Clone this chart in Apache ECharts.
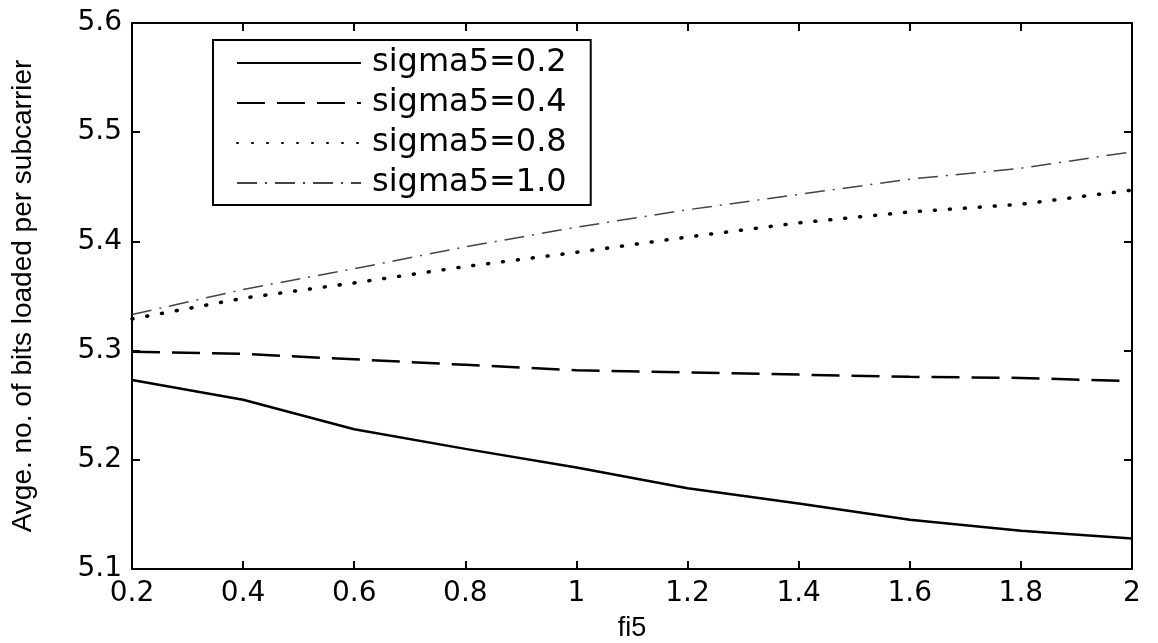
<!DOCTYPE html>
<html>
<head>
<meta charset="utf-8">
<script src="https://cdn.jsdelivr.net/npm/echarts/dist/echarts.min.js"></script>
<style>
  html, body { margin: 0; padding: 0; background: #fff; }
  #chart { width: 1158px; height: 643px; }
</style>
</head>
<body>
<div id="chart"></div>
<script>
// values
var fiValues = [0.2, 0.4, 0.6, 0.8, 1.0, 1.2, 1.4, 1.6, 1.8, 2.0];
var sigma02 = [5.273, 5.255, 5.228, 5.210, 5.193, 5.174, 5.160, 5.145, 5.135, 5.128];
var sigma04 = [5.299, 5.297, 5.292, 5.287, 5.282, 5.280, 5.278, 5.276, 5.275, 5.272];
var sigma08 = [5.329, 5.348, 5.362, 5.377, 5.390, 5.404, 5.417, 5.427, 5.434, 5.447];
var sigma10 = [5.333, 5.356, 5.375, 5.395, 5.413, 5.429, 5.443, 5.457, 5.467, 5.482];
var legendNames = ['sigma5=0.2', 'sigma5=0.4', 'sigma5=0.8', 'sigma5=1.0'];

function pairs(ys) {
  var out = [];
  for (var i = 0; i < fiValues.length; i++) {
    out.push([fiValues[i], ys[i]]);
  }
  return out;
}

var labelFont = {
  color: '#000',
  fontFamily: 'DejaVu Sans',
  fontSize: 28
};

var myChart = echarts.init(document.getElementById('chart'));
var option = {
  animation: false,
  backgroundColor: '#fff',
  grid: {
    left: 132,
    right: 26,
    top: 23,
    bottom: 74,
    containLabel: false,
    outerBoundsMode: 'none',
    show: true,
    borderColor: '#000',
    borderWidth: 2
  },
  legend: {
    orient: 'vertical',
    left: 213,
    top: 40,
    data: legendNames,
    itemWidth: 124,
    itemHeight: 14,
    itemGap: 8,
    padding: [7, 24, 6, 23],
    borderColor: '#000',
    borderWidth: 2,
    backgroundColor: '#fff',
    itemStyle: { opacity: 0 },
    textStyle: {
      color: '#000',
      fontFamily: 'DejaVu Sans',
      fontSize: 32,
      lineHeight: 32,
      padding: [0, 0, 0, 6]
    }
  },
  xAxis: [{
    type: 'value',
    min: 0.2,
    max: 2,
    interval: 0.2,
    name: 'fi5',
    nameLocation: 'middle',
    nameGap: 46,
    nameTextStyle: {
      color: '#000',
      fontFamily: 'Liberation Sans',
      fontSize: 27
    },
    axisLine: { lineStyle: { color: '#000', width: 2 } },
    axisTick: { inside: true, length: 8, lineStyle: { color: '#000', width: 2 } },
    axisLabel: Object.assign({ margin: 11 }, labelFont),
    splitLine: { show: false }
  }, {
    type: 'value',
    position: 'top',
    min: 0.2,
    max: 2,
    interval: 0.2,
    axisLine: { lineStyle: { color: '#000', width: 2 } },
    axisTick: { inside: true, length: 8, lineStyle: { color: '#000', width: 2 } },
    axisLabel: { show: false },
    splitLine: { show: false }
  }],
  yAxis: [{
    type: 'value',
    min: 5.1,
    max: 5.6,
    interval: 0.1,
    name: 'Avge. no. of bits loaded per subcarrier',
    nameLocation: 'middle',
    nameRotate: 90,
    nameGap: 95,
    nameTextStyle: {
      color: '#000',
      fontFamily: 'Liberation Sans',
      fontSize: 28
    },
    axisLine: { lineStyle: { color: '#000', width: 2 } },
    axisTick: { inside: true, length: 8, lineStyle: { color: '#000', width: 2 } },
    axisLabel: Object.assign({ margin: 10 }, labelFont),
    splitLine: { show: false }
  }, {
    type: 'value',
    position: 'right',
    min: 5.1,
    max: 5.6,
    interval: 0.1,
    axisLine: { lineStyle: { color: '#000', width: 2 } },
    axisTick: { inside: true, length: 8, lineStyle: { color: '#000', width: 2 } },
    axisLabel: { show: false },
    splitLine: { show: false }
  }],
  series: [{
    name: legendNames[0],
    type: 'line',
    symbol: 'none',
    data: pairs(sigma02),
    lineStyle: { color: '#000', width: 2.5, type: 'solid' },
    itemStyle: { color: '#000' }
  }, {
    name: legendNames[1],
    type: 'line',
    symbol: 'none',
    data: pairs(sigma04),
    lineStyle: { color: '#000', width: 2.5, type: [28, 12] },
    itemStyle: { color: '#000' }
  }, {
    name: legendNames[2],
    type: 'line',
    symbol: 'none',
    data: pairs(sigma08),
    lineStyle: { color: '#000', width: 3.5, type: [1, 14], cap: 'round' },
    itemStyle: { color: '#000' }
  }, {
    name: legendNames[3],
    type: 'line',
    symbol: 'none',
    data: pairs(sigma10),
    lineStyle: { color: '#444', width: 1.5, type: [20, 8, 2, 8] },
    itemStyle: { color: '#444' }
  }]
};
myChart.setOption(option);
</script>
</body>
</html>
